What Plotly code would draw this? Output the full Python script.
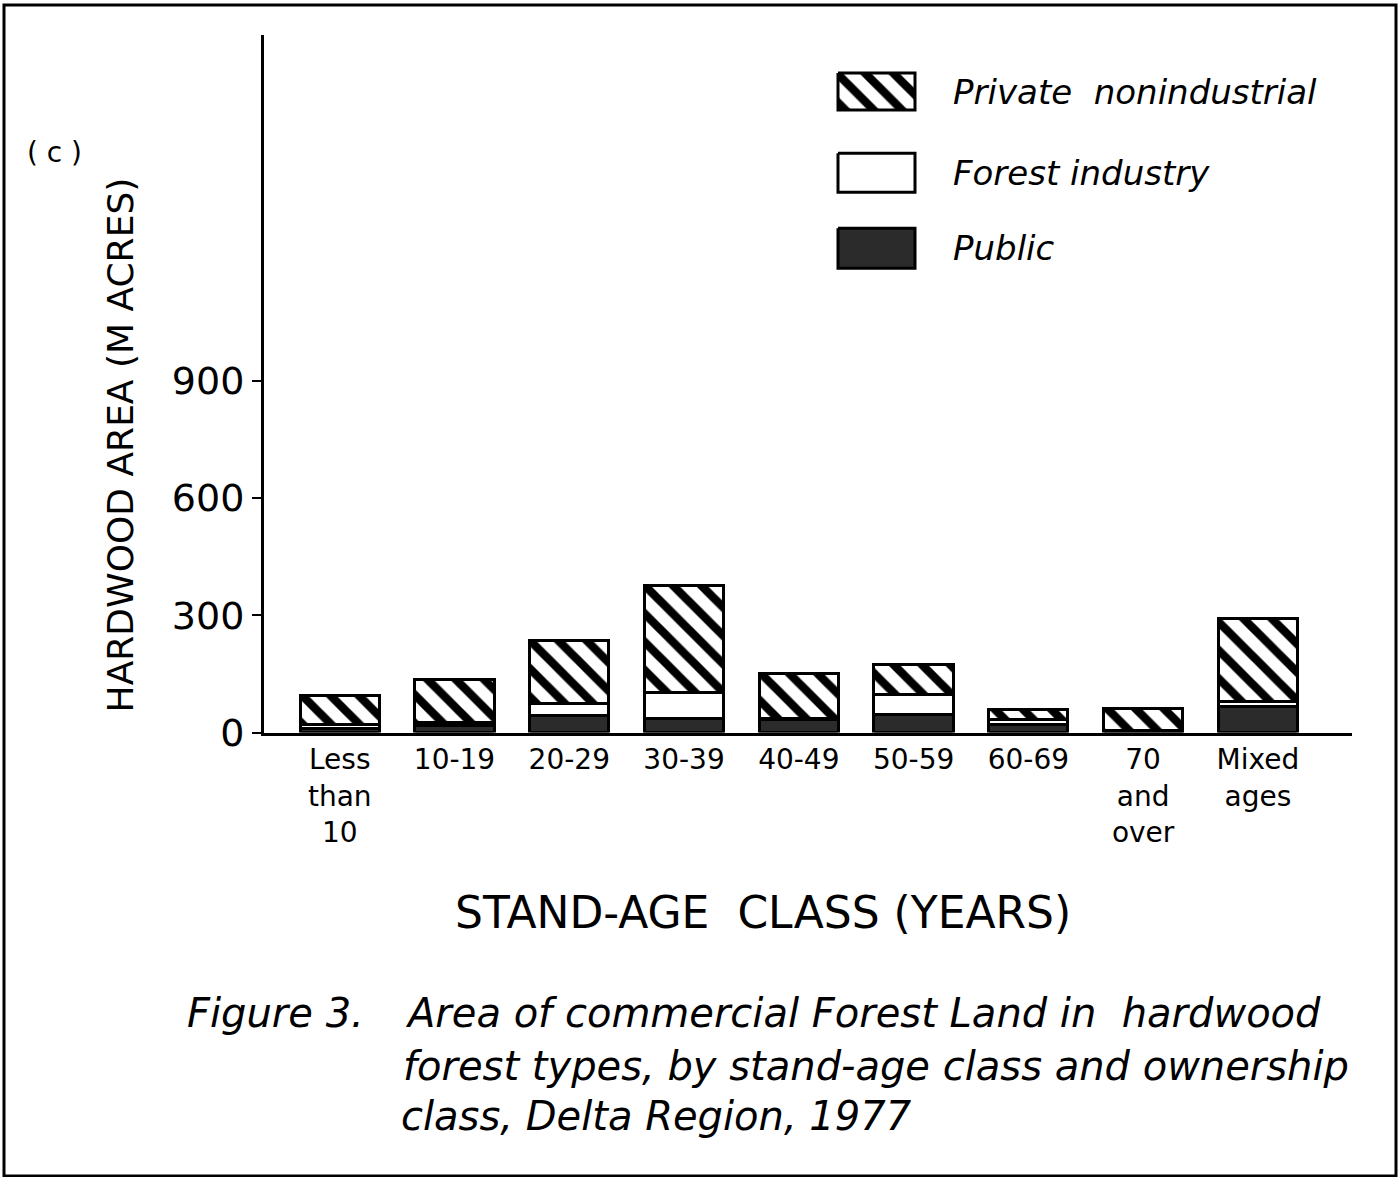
import plotly.graph_objects as go

# ---------------- data ----------------
categories = ["Less than 10", "10-19", "20-29", "30-39", "40-49",
              "50-59", "60-69", "70 and over", "Mixed ages"]
tick_labels = ["Less<br>than<br>10", "10-19", "20-29", "30-39", "40-49",
               "50-59", "60-69", "70<br>and<br>over", "Mixed<br>ages"]
public = [10, 18, 44, 36, 33, 46, 20, 5, 67]
forest_industry = [10, 8, 31, 67, 3, 51, 13, 0, 13]
private_nonindustrial = [74, 110, 161, 274, 115, 77, 26, 57, 213]
y_ticks = [0, 300, 600, 900]
legend_names = ["Private&nbsp;&nbsp;nonindustrial", "Forest industry", "Public"]

W, H = 1400, 1177          # reference coordinate frame
PAGE_H = 1200              # captured page height
FONT = "DejaVu Sans"
DARK = "#2b2b2b"


def px(x, y):
    return x / W, 1 - y / H


xs = list(range(len(categories)))
fig = go.Figure()

common = dict(x=xs, width=0.69, showlegend=False, xaxis="x", yaxis="y")
fig.add_trace(go.Bar(y=public, name="Public",
                     marker=dict(color=DARK, line=dict(color="black", width=3)),
                     **common))
fig.add_trace(go.Bar(y=forest_industry, name="Forest industry",
                     marker=dict(color="white", line=dict(color="black", width=3)),
                     **common))
fig.add_trace(go.Bar(y=private_nonindustrial, name="Private nonindustrial",
                     marker=dict(color="white", line=dict(color="black", width=3),
                                 pattern=dict(shape="\\", fgcolor="black", bgcolor="white",
                                              fgopacity=1, size=20, solidity=0.42)),
                     **common))

# legend swatches on an overlay axis spanning the page (reference pixel units)
sw = [(73, 110), (153, 192), (228, 268)]
styles = [
    dict(fillcolor="white", fillpattern=dict(shape="\\", fgcolor="black", bgcolor="white",
                                             fgopacity=1, size=20, solidity=0.42)),
    dict(fillcolor="white"),
    dict(fillcolor=DARK),
]
for (y0, y1), st in zip(sw, styles):
    fig.add_trace(go.Scatter(x=[838, 915, 915, 838, 838], y=[y0, y0, y1, y1, y0],
                             mode="lines", fill="toself",
                             line=dict(color="black", width=3),
                             showlegend=False, hoverinfo="skip",
                             xaxis="x2", yaxis="y2", **st))

fig.update_layout(
    width=W, height=PAGE_H,
    margin=dict(l=0, r=0, t=0, b=0),
    paper_bgcolor="white", plot_bgcolor="rgba(0,0,0,0)",
    barmode="stack",
    font=dict(family=FONT, color="black"),
    xaxis=dict(domain=[264 / W, 1352 / W], range=[-0.66, 8.82],
               tickvals=xs, ticktext=tick_labels, showgrid=False, zeroline=False,
               showline=True, linecolor="black", linewidth=3, ticks="",
               tickfont=dict(size=28, family=FONT), fixedrange=True),
    yaxis=dict(domain=[1 - 732 / H, 1 - 35 / H], range=[0, 1785],
               tickvals=y_ticks, ticktext=[str(v) for v in y_ticks],
               showgrid=False, zeroline=False, showline=True, linecolor="black",
               linewidth=3, ticks="outside", ticklen=9, tickwidth=2, tickcolor="black",
               tickfont=dict(size=38, family=FONT), fixedrange=True),
    xaxis2=dict(domain=[0, 1], range=[0, W], visible=False, anchor="y2", fixedrange=True),
    yaxis2=dict(domain=[0, 1], range=[H, 0], visible=False, anchor="x2", fixedrange=True),
)

ann = []


def text(x, y, s, size, xanchor="left", italic=False, angle=0):
    xx, yy = px(x, y)
    ann.append(dict(x=xx, y=yy, xref="paper", yref="paper", text=s, showarrow=False,
                    xanchor=xanchor, yanchor="middle", textangle=angle,
                    font=dict(size=size, family=FONT, color="black",
                              style="italic" if italic else "normal")))


text(25, 152, "( c )", 28)
text(120, 445, "HARDWOOD AREA (M ACRES)", 36, xanchor="center", angle=-90)
text(763, 912, "STAND-AGE&nbsp;&nbsp;CLASS (YEARS)", 44, xanchor="center")
for (y0, y1), name in zip(sw, legend_names):
    text(951, (y0 + y1) / 2, name, 34, italic=True)
text(185, 1012, "Figure 3.", 40, italic=True)
text(403, 1012, "Area of commercial Forest Land in  hardwood", 40, italic=True)
text(401, 1065, "forest types, by stand-age class and ownership", 40, italic=True)
text(399, 1115, "class, Delta Region, 1977", 40, italic=True)
fig.update_layout(annotations=ann)

fig.add_shape(type="rect", xref="paper", yref="paper",
              x0=4 / W, x1=1396 / W, y0=1 - 1175 / H, y1=1 - 5 / H,
              line=dict(color="black", width=3))

fig.write_html("out.html", config={"displayModeBar": False},
               post_script="document.body.style.margin='0';document.body.style.overflow='hidden';")
